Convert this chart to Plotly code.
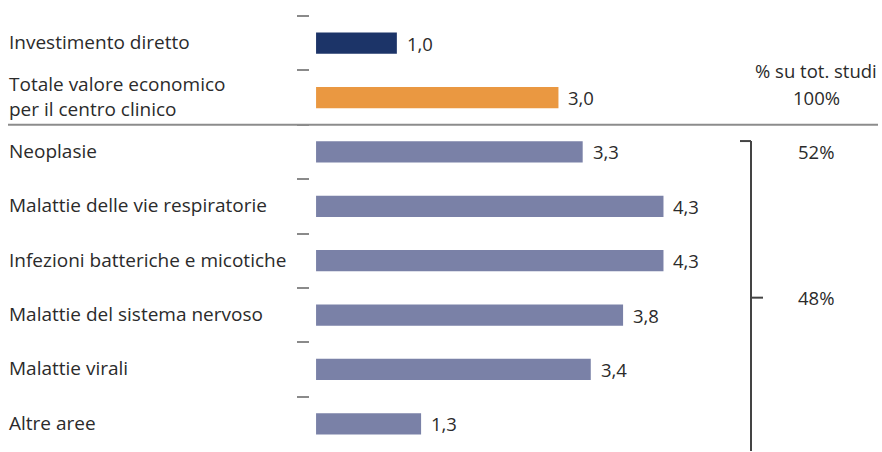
import plotly.graph_objects as go

# Categorie (dall'alto verso il basso) e valori
categorie = [
    "Investimento diretto",
    "Totale valore economico<br>per il centro clinico",
    "Neoplasie",
    "Malattie delle vie respiratorie",
    "Infezioni batteriche e micotiche",
    "Malattie del sistema nervoso",
    "Malattie virali",
    "Altre aree",
]
valori = [1.0, 3.0, 3.3, 4.3, 4.3, 3.8, 3.4, 1.3]
colori = ["#1c3468", "#ea9841", "#7a81a7", "#7a81a7", "#7a81a7",
          "#7a81a7", "#7a81a7", "#7a81a7"]

# Quota sul totale degli studi (colonna a destra)
quota_titolo = "% su tot. studi"
quota_totale = "100%"
quota_neoplasie = "52%"
quota_altre = "48%"

W, H = 882, 452
FONT = "Open Sans"
FS = 18.5
TXT = "#2b2b2b"

fig = go.Figure()
fig.add_trace(go.Bar(
    y=categorie,
    x=valori,
    orientation="h",
    marker=dict(color=colori, line=dict(width=0)),
    width=0.39,
    hoverinfo="skip",
))

ann = []
# etichette categorie, allineate a sinistra
for c in categorie:
    ann.append(dict(x=7 / W, xref="paper", y=c, yref="y", text=c,
                    xanchor="left", yanchor="middle", align="left", yshift=1,
                    showarrow=False, font=dict(family=FONT, size=19, color=TXT)))
# valori a fine barra
for c, v in zip(categorie, valori):
    ann.append(dict(x=v, xref="x", y=c, yref="y",
                    text=f"{v:.1f}".replace(".", ","),
                    xanchor="left", yanchor="middle", xshift=8,
                    showarrow=False, font=dict(family=FONT, size=FS, color=TXT)))

# colonna delle quote
xq = 816 / W
for yy, t in [(0.5, quota_titolo), (1, quota_totale), (2, quota_neoplasie), (4.68, quota_altre)]:
    ann.append(dict(x=xq, xref="paper", y=yy, yref="y", text=t,
                    xanchor="center", yanchor="middle", showarrow=False,
                    font=dict(family=FONT, size=FS, color=TXT)))

shapes = [
    # separatore tra totali e aree terapeutiche
    dict(type="line", xref="paper", yref="y", x0=8 / W, x1=878 / W, y0=1.5, y1=1.5,
         line=dict(color="#8c8c8c", width=2)),
    # parentesi delle aree terapeutiche
    dict(type="line", xref="paper", yref="y", x0=740 / W, x1=751 / W, y0=1.8, y1=1.8,
         line=dict(color="#444444", width=2)),
    dict(type="line", xref="paper", yref="y", x0=751 / W, x1=751 / W, y0=1.8, y1=7.6,
         line=dict(color="#444444", width=2)),
    dict(type="line", xref="paper", yref="y", x0=751 / W, x1=763 / W, y0=4.68, y1=4.68,
         line=dict(color="#444444", width=2)),
]

fig.update_layout(
    width=W, height=H,
    margin=dict(l=0, r=0, t=16, b=1),
    paper_bgcolor="white", plot_bgcolor="white",
    showlegend=False,
    annotations=ann,
    shapes=shapes,
    xaxis=dict(domain=[310 / W, 716 / W], range=[-0.075, 4.95], visible=False,
               fixedrange=True),
    yaxis=dict(categoryorder="array", categoryarray=categorie,
               range=[7.5, -0.5], showticklabels=False, showgrid=False,
               zeroline=False, showline=False,
               ticks="outside", tickson="boundaries", ticklen=12, tickwidth=2,
               tickcolor="#8a8a8a", fixedrange=True),
)

fig.write_html("out.html", config={"displayModeBar": False})
